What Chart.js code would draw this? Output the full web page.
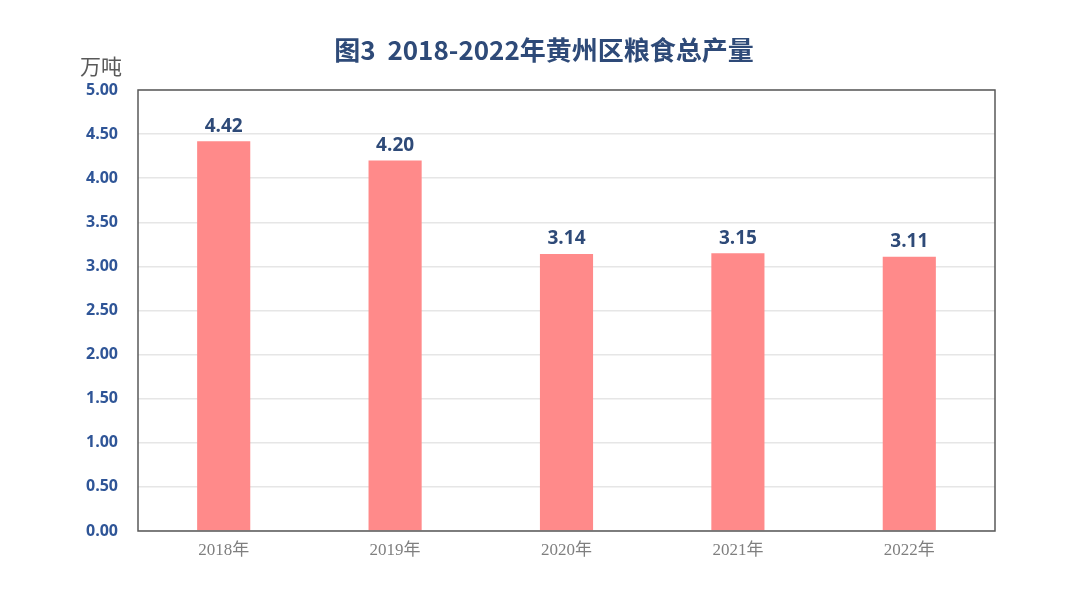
<!DOCTYPE html>
<html>
<head>
<meta charset="utf-8">
<script src="https://cdn.jsdelivr.net/npm/chart.js@4"></script>
<style>
  html, body { margin: 0; padding: 0; background: #fff; }
  #wrap { width: 1080px; height: 606px; }
</style>
</head>
<body>
<div id="wrap"><canvas id="_grain_chart"></canvas></div>
<script>
// data
const years = ['2018年', '2019年', '2020年', '2021年', '2022年'];
const grain_output = [4.42, 4.20, 3.14, 3.15, 3.11];
const y_ticks = [0, 0.5, 1, 1.5, 2, 2.5, 3, 3.5, 4, 4.5, 5];

const title_text = '图3  2018-2022年黄州区粮食总产量';
const unit_text = '万吨';

// title, unit, frame and value labels
const _decorPlugin = {
    id: 'decor',
    afterDraw(chart) {
        const ctx = chart.ctx;
        const area = chart.chartArea;
        ctx.save();

        ctx.fillStyle = '#2E4A78';
        ctx.font = 'bold 26px "Noto Sans CJK SC", "Open Sans", sans-serif';
        ctx.textAlign = 'center';
        ctx.textBaseline = 'middle';
        ctx.fillText(title_text, 544, 50);

        ctx.fillStyle = '#595959';
        ctx.font = '21px "Noto Sans CJK SC", sans-serif';
        ctx.textAlign = 'left';
        ctx.fillText(unit_text, 80, 66);

        ctx.strokeStyle = '#595959';
        ctx.lineWidth = 1.5;
        ctx.strokeRect(area.left, area.top, area.right - area.left, area.bottom - area.top);

        const meta = chart.getDatasetMeta(0);
        ctx.fillStyle = '#2E4A78';
        ctx.font = 'bold 19px "Open Sans", sans-serif';
        ctx.textAlign = 'center';
        meta.data.forEach((bar, i) => {
            ctx.fillText(grain_output[i].toFixed(2), bar.x, bar.y - 15);
        });
        ctx.restore();
    }
};

const ctx = document.getElementById('_grain_chart');
const grain_chart = new Chart(ctx, {
    type: 'bar',
    data: {
        labels: years,
        datasets: [
            {
                label: '粮食总产量',
                data: grain_output,
                backgroundColor: '#FF8A8A',
                barPercentage: 0.31,
                categoryPercentage: 1
            }
        ]
    },
    options: {
        responsive: true,
        maintainAspectRatio: false,
        animation: false,
        layout: {
            padding: { left: 60, right: 85, top: 90, bottom: 45 }
        },
        scales: {
            x: {
                grid: { display: false },
                border: { display: false },
                afterFit(scale) { scale.height = 30; },
                ticks: {
                    color: '#7F7F7F',
                    padding: 1,
                    font: { family: '"Liberation Serif", "Noto Sans CJK SC", serif', size: 17 }
                }
            },
            y: {
                min: 0,
                max: 5,
                afterFit(scale) { scale.width = 78; },
                afterBuildTicks(scale) {
                    scale.ticks = y_ticks.map(v => ({ value: v }));
                },
                grid: {
                    color: '#E6E6E6',
                    lineWidth: 1.5,
                    drawTicks: false
                },
                border: { display: false },
                ticks: {
                    color: '#2F5597',
                    padding: 20,
                    font: { family: '"Open Sans", sans-serif', size: 16, weight: 'bold' },
                    callback: (v) => Number(v).toFixed(2)
                }
            }
        },
        plugins: {
            legend: { display: false },
            tooltip: { enabled: false }
        }
    },
    plugins: [_decorPlugin]
});
</script>
</body>
</html>
